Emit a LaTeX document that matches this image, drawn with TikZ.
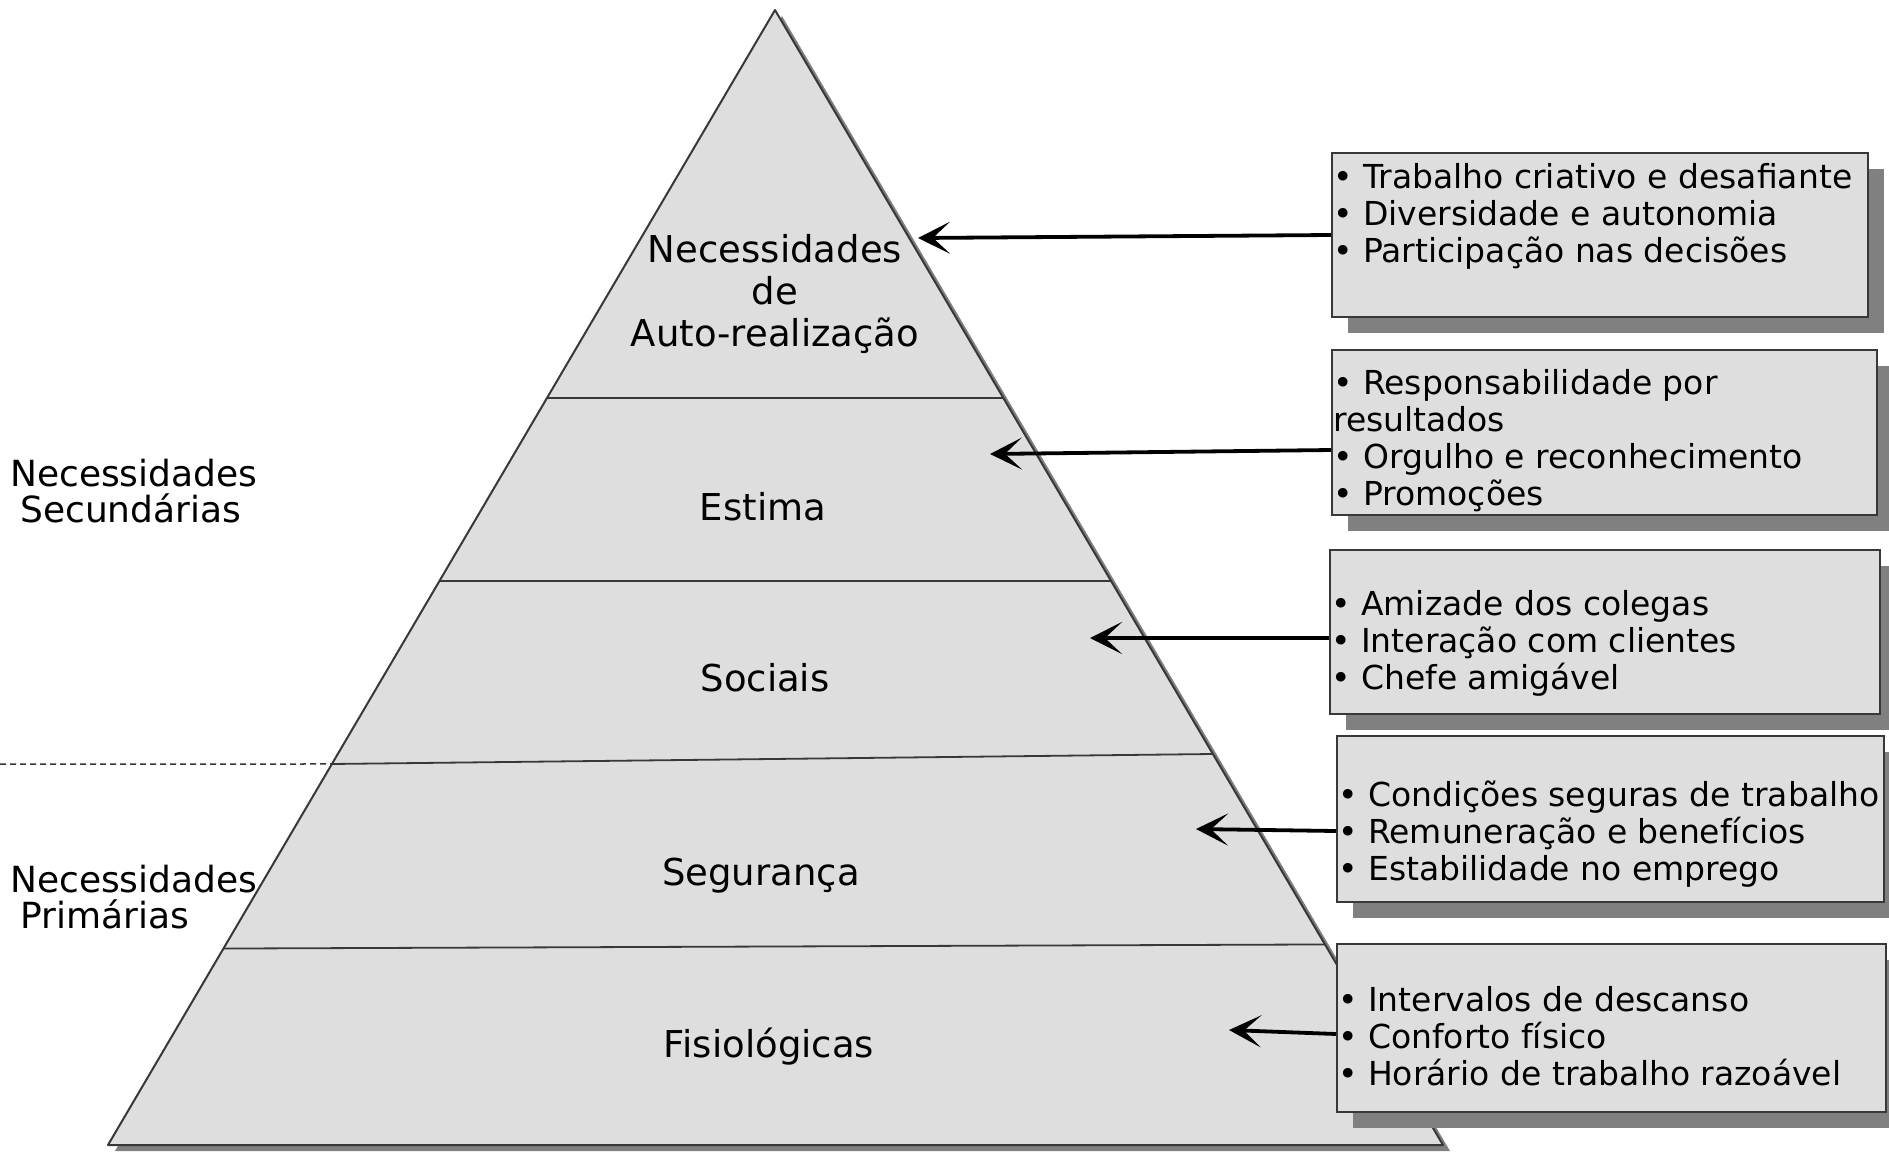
\documentclass[tikz,border=0pt]{standalone}
\usepackage{fontspec}
\setmainfont{DejaVu Sans}
\usetikzlibrary{arrows.meta,calc}
\definecolor{fillgray}{HTML}{DEDEDE}
\definecolor{shadowgray}{HTML}{808080}
\definecolor{edgegray}{HTML}{383838}
\begin{document}
\begin{tikzpicture}[x=1pt,y=-1pt,
  boxstyle/.style={draw=edgegray, line width=2pt, fill=fillgray, inner sep=0pt, anchor=north west},
  boxtext/.style={anchor=west, align=left, inner sep=0pt, font=\fontsize{33}{37}\selectfont},
  levellabel/.style={font=\fontsize{37}{42}\selectfont, align=center, inner sep=0pt},
  sidelabel/.style={font=\fontsize{36}{36}\selectfont, align=left, inner sep=0pt, anchor=west},
  arr/.style={line width=3.8pt, -{Stealth[length=32pt,width=32pt,inset=17pt]}},
  tier/.style={draw=edgegray, line width=1.8pt}]
\useasboundingbox (0,0) rectangle (1889,1151);

% pyramid
\coordinate (apex) at (775,10);
\coordinate (bl) at (108,1145);
\coordinate (br) at (1443,1145);
\fill[shadowgray] ([shift={(7,6)}]apex) -- ([shift={(7,6)}]br) -- ([shift={(7,6)}]bl) -- cycle;
\filldraw[fill=fillgray, draw=edgegray, line width=2pt, line join=round] (apex) -- (br) -- (bl) -- cycle;

\draw[tier] ($(apex)!0.3419!(bl)$) -- ($(apex)!0.3419!(br)$);
\draw[tier] ($(apex)!0.5031!(bl)$) -- ($(apex)!0.5031!(br)$);
\draw[tier] ($(apex)!0.6643!(bl)$) -- ($(apex)!0.6555!(br)$);
\draw[tier] ($(apex)!0.8269!(bl)$) -- ($(apex)!0.8233!(br)$);
\draw[draw=edgegray, line width=1.5pt, dash pattern=on 6pt off 4pt] (0,764) -- ($(apex)!0.6643!(bl)$);

% level labels
\node[levellabel] (n5) at (775,294) {Necessidades\\de\\Auto-realização};
\node[levellabel] (n4) at (763,507) {Estima};
\node[levellabel] (n3) at (765,678) {Sociais};
\node[levellabel] (n2) at (761,876) {Segurança};
\node[levellabel] (n1) at (769,1047) {Fisiológicas};

% side labels
\node[sidelabel] (sec) at (10,491) {Necessidades\\\hspace*{10pt}Secundárias};
\node[sidelabel] (pri) at (10,897) {Necessidades\\\hspace*{10pt}Primárias};

% box shadows
\fill[shadowgray] (1348,169) rectangle ++(536,164);
\fill[shadowgray] (1348,366) rectangle ++(545,165);
\fill[shadowgray] (1346,566) rectangle ++(550,164);
\fill[shadowgray] (1353,752) rectangle ++(547,166);
\fill[shadowgray] (1353,960) rectangle ++(549,168);

% boxes
\node[boxstyle, minimum width=536pt, minimum height=164pt] (b1) at (1331,152) {};
\node[boxstyle, minimum width=545pt, minimum height=165pt] (b2) at (1331,349) {};
\node[boxstyle, minimum width=550pt, minimum height=164pt] (b3) at (1329,549) {};
\node[boxstyle, minimum width=547pt, minimum height=166pt] (b4) at (1336,735) {};
\node[boxstyle, minimum width=549pt, minimum height=168pt] (b5) at (1336,943) {};

\node[boxtext] (t1) at (1333,216) {• Trabalho criativo e desafiante\\• Diversidade e autonomia\\• Participação nas decisões};
\node[boxtext] (t2) at (1333,441) {• Responsabilidade por\\resultados\\• Orgulho e reconhecimento\\• Promoções};
\node[boxtext] (t3) at (1331,643) {• Amizade dos colegas\\• Interação com clientes\\• Chefe amigável};
\node[boxtext] (t4) at (1338,834) {• Condições seguras de trabalho\\• Remuneração e benefícios\\• Estabilidade no emprego};
\node[boxtext] (t5) at (1338,1036) {• Intervalos de descanso\\• Conforto físico\\• Horário de trabalho razoável};

% arrows
\coordinate (tip1) at (918,238);
\coordinate (tip2) at (990,454);
\coordinate (tip3) at (1090,638);
\coordinate (tip4) at (1196,829);
\coordinate (tip5) at (1229,1030);
\draw[arr] ([yshift=-83pt]b1.north west) -- (tip1);
\draw[arr] ([yshift=-101pt]b2.north west) -- (tip2);
\draw[arr] ([yshift=-89pt]b3.north west) -- (tip3);
\draw[arr] ([yshift=-96pt]b4.north west) -- (tip4);
\draw[arr] ([yshift=-91pt]b5.north west) -- (tip5);
\end{tikzpicture}
\end{document}
